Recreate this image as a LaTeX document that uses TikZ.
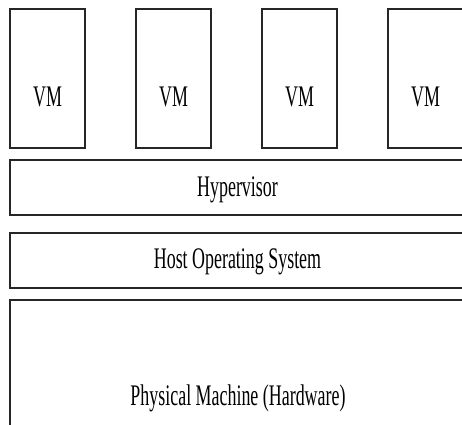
\documentclass[tikz,border=0pt]{standalone}
\usepackage{fontspec}
\setmainfont{Liberation Serif}
\begin{document}
\begin{tikzpicture}[node distance=2.52cm, auto]
    \tikzstyle{vmbox} = [rectangle, minimum width=1.5cm, minimum height=2.78cm, draw=black!85, line width=1.1pt, inner sep=0pt]
    \tikzstyle{layer} = [rectangle, minimum width=9.1cm, minimum height=1.1cm, draw=black!85, line width=1.1pt, inner sep=0pt]
    \tikzstyle{boxtext} = [font=\fontsize{17}{20}\selectfont, xscale=0.6, inner sep=0pt, text=black]

    \useasboundingbox (0,0) rectangle (9.24,-8.5);
    \clip (0,0) rectangle (9.24,-8.5);

    % Virtual machines
    \node [vmbox] (vm1) at (0.95,-1.57) {};
    \node [vmbox, right of=vm1] (vm2) {};
    \node [vmbox, right of=vm2] (vm3) {};
    \node [vmbox, right of=vm3] (vm4) {};

    % Layers
    \node [layer] (hyper) at (4.75,-3.75) {};
    \node [layer, below of=hyper, yshift=1.06cm] (host) {};
    \node [layer, minimum height=3cm, below of=host, yshift=0.23cm] (hw) {};

    % Texts
    \node [boxtext] (vm1txt) at ([yshift=-0.37cm]vm1.center) {VM};
    \node [boxtext] (vm2txt) at ([yshift=-0.37cm]vm2.center) {VM};
    \node [boxtext] (vm3txt) at ([yshift=-0.37cm]vm3.center) {VM};
    \node [boxtext] (vm4txt) at ([yshift=-0.37cm]vm4.center) {VM};
    \node [boxtext] (hypertxt) at ([yshift=-0.05cm]hyper.center) {Hypervisor};
    \node [boxtext] (hosttxt) at ([yshift=-0.03cm]host.center) {Host Operating System};
    \node [boxtext] (hwtxt) at (4.76,-7.96) {Physical Machine (Hardware)};
\end{tikzpicture}
\end{document}
